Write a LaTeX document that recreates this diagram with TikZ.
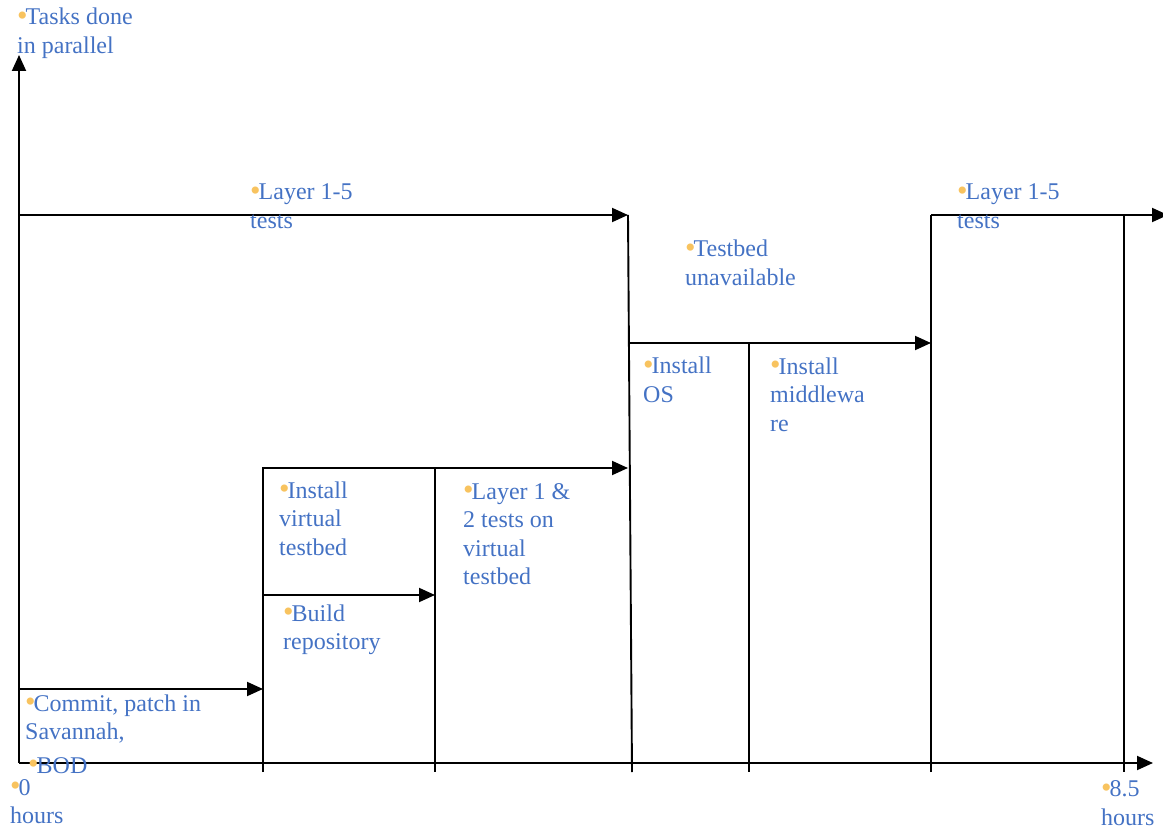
\documentclass[tikz,border=0pt]{standalone}
\usepackage{fontspec}
\setmainfont{Liberation Serif}
\usetikzlibrary{arrows.meta}
\definecolor{txt}{HTML}{4472C4}
\definecolor{bul}{HTML}{F8C35F}
\newcommand\mybul{{\color{bul}\raisebox{-0.5pt}{\fontsize{30}{30}\selectfont •}}\kern-2pt}
\begin{document}
\begin{tikzpicture}[x=1pt,y=-1pt,
  ln/.style={line width=1.9pt,black},
  arr/.style={ln,-{Triangle[length=16pt,width=14pt]}},
  lab/.style={anchor=base west,inner sep=0pt,align=left,text=txt,font=\fontsize{24}{28.5}\selectfont}]
\useasboundingbox (0,0) rectangle (1163,829);
% coordinates
\coordinate (o) at (19,763);
\coordinate (ytop) at (19,55);
\coordinate (xend) at (1153,763);
\coordinate (t0) at (19,215);
\coordinate (t1) at (628,215);
\coordinate (t1b) at (632,772);
\coordinate (c0) at (19,689);
\coordinate (c1) at (263,689);
\coordinate (v1t) at (263,468);
\coordinate (v1b) at (263,772);
\coordinate (v2t) at (435,468);
\coordinate (v2b) at (435,772);
\coordinate (h1) at (628,468);
\coordinate (b0) at (263,595);
\coordinate (b1) at (435,595);
\coordinate (m0) at (629,343);
\coordinate (m1) at (931,343);
\coordinate (v3t) at (749,343);
\coordinate (v3b) at (749,772);
\coordinate (v4t) at (931,215);
\coordinate (v4b) at (931,772);
\coordinate (r1) at (1168,215);
\coordinate (v5t) at (1124,215);
\coordinate (v5b) at (1124,772);
% axes
\draw[arr] (o) -- (ytop);
\draw[arr] (o) -- (xend);
% chart lines
\draw[arr] (t0) -- (t1);
\draw[ln] (t1) -- (t1b);
\draw[arr] (c0) -- (c1);
\draw[ln] (v1b) -- (v1t) -- (v2t);
\draw[arr] (v2t) -- (h1);
\draw[ln] (v2t) -- (v2b);
\draw[arr] (b0) -- (b1);
\draw[arr] (m0) -- (m1);
\draw[ln] (v3t) -- (v3b);
\draw[ln] (v4b) -- (v4t);
\draw[arr] (v4t) -- (r1);
\draw[ln] (v5t) -- (v5b);
% labels (anchor = baseline of last line)
\node[lab] (la) at (17,53.5) {\mybul Tasks done\\in parallel};
\node[lab] (lb) at (250,228.5) {\mybul Layer 1-5\\tests};
\node[lab] (lc) at (685,285.5) {\mybul Testbed\\unavailable};
\node[lab] (ld) at (957,228.5) {\mybul Layer 1-5\\tests};
\node[lab] (le) at (643,402.5) {\mybul Install\\OS};
\node[lab] (lf) at (770,431) {\mybul Install\\middlewa\\re};
\node[lab] (lg) at (279,555) {\mybul Install\\virtual\\testbed};
\node[lab] (lh) at (463,584.5) {\mybul Layer 1 \&\\2 tests on\\virtual\\testbed};
\node[lab] (li) at (283,649.5) {\mybul Build\\repository};
\node[lab] (lj) at (25,739.5) {\mybul Commit, patch in\\Savannah,};
\node[lab] (lk) at (28,773) {\mybul BOD};
\node[lab] (ll) at (10,823.5) {\mybul 0\\hours};
\node[lab] (lm) at (1101,825) {\mybul 8.5\\hours};
\end{tikzpicture}
\end{document}
